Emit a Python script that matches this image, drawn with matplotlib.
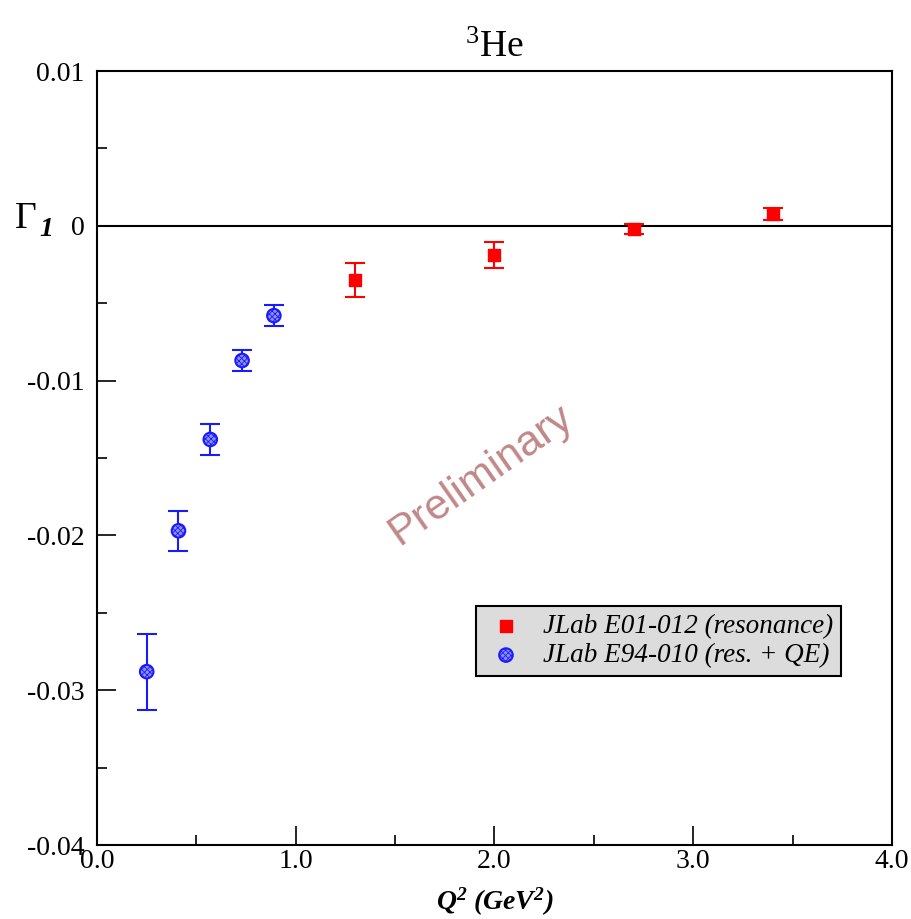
import matplotlib
matplotlib.use("Agg")
import matplotlib.pyplot as plt
from matplotlib.ticker import MultipleLocator, FixedLocator

plt.rcParams['font.family'] = ['Liberation Serif', 'DejaVu Serif']
plt.rcParams['mathtext.fontset'] = 'custom'
plt.rcParams['mathtext.rm'] = 'Liberation Serif'
plt.rcParams['mathtext.it'] = 'Liberation Serif:italic'
plt.rcParams['mathtext.bf'] = 'Liberation Serif:bold'
plt.rcParams['mathtext.bfit'] = 'Liberation Serif:bold:italic'
plt.rcParams['hatch.linewidth'] = 0.6

# Data
q2_res = [1.3, 2.0, 2.7, 3.4]
g1_res = [-0.0035, -0.0019, -0.0002, 0.00075]
err_res = [0.0011, 0.00085, 0.0003, 0.0004]

q2_qe = [0.25, 0.41, 0.57, 0.73, 0.89]
g1_qe = [-0.0288, -0.0197, -0.0138, -0.0087, -0.0058]
err_qe = [0.00245, 0.0013, 0.001, 0.0007, 0.0007]

label_res = "JLab E01-012 (resonance)"
label_qe = "JLab E94-010 (res. + QE)"

xticks = [0.0, 1.0, 2.0, 3.0, 4.0]
xticklabels = ["0.0", "1.0", "2.0", "3.0", "4.0"]
yticks = [0.01, 0.0, -0.01, -0.02, -0.03, -0.04]
yticklabels = ["0.01", "0", "-0.01", "-0.02", "-0.03", "-0.04"]

fig = plt.figure(figsize=(9.11, 9.19), dpi=100)
ax = fig.add_axes([0.1065, 0.0805, 0.8725, 0.8422])

ax.axhline(0, color='black', lw=1.5, zorder=1)

ax.errorbar(q2_res, g1_res, yerr=err_res, fmt='none', ecolor='red',
            elinewidth=1.5, capsize=7, capthick=1.5, zorder=2)
ax.scatter(q2_res, g1_res, marker='s', s=85, color='red', edgecolor='red',
           zorder=3, label=label_res)

ax.errorbar(q2_qe, g1_qe, yerr=err_qe, fmt='none', ecolor='#1a1aff',
            elinewidth=1.5, capsize=7, capthick=1.5, zorder=2)
ax.scatter(q2_qe, g1_qe, marker='o', s=95, facecolor='#9090ff',
           edgecolor='#1a1aff', linewidths=1.5, hatch='xxxxxx', zorder=3,
           label=label_qe)

ax.set_xlim(0, 4.0)
ax.set_ylim(-0.04, 0.01)
ax.xaxis.set_major_locator(FixedLocator(xticks))
ax.set_xticklabels(xticklabels)
ax.xaxis.set_minor_locator(MultipleLocator(0.5))
ax.yaxis.set_major_locator(FixedLocator(yticks))
ax.set_yticklabels(yticklabels)
ax.yaxis.set_minor_locator(MultipleLocator(0.005))
ax.tick_params(which='both', direction='in', top=False, right=False,
               labelsize=20, width=1.2)
ax.tick_params(which='major', length=14)
ax.tick_params(which='minor', length=7)
ax.tick_params(axis='x', pad=3)
ax.tick_params(axis='y', pad=9)
for sp in ax.spines.values():
    sp.set_linewidth(1.5)

ax.set_title(r'$^{3}$He', fontsize=27, pad=10)
ax.set_xlabel(r'$\mathbfit{Q^2\ (GeV^2)}$', fontsize=20, labelpad=8)

fig.text(0.016, 0.762, 'Γ', fontsize=27, ha='left', va='center')
fig.text(0.043, 0.750, '1', fontsize=20, fontweight='bold', style='italic',
         ha='left', va='center')

ax.text(0.483, 0.478, 'Preliminary', transform=ax.transAxes,
        fontsize=31, color='#c08888', rotation=35, ha='center', va='center',
        family='Liberation Sans', rotation_mode='anchor')

leg = ax.legend(loc='lower left', bbox_to_anchor=(0.477, 0.218),
                prop={'family': 'Liberation Serif', 'style': 'italic', 'size': 19.5},
                fancybox=False, edgecolor='black', facecolor='#dcdcdc',
                framealpha=1, borderpad=0.3, handletextpad=0.55,
                labelspacing=0.15, handlelength=1.6, borderaxespad=0,
                markerscale=1.0)
leg.get_frame().set_linewidth(1.5)

fig.savefig('out.png', dpi=100)
